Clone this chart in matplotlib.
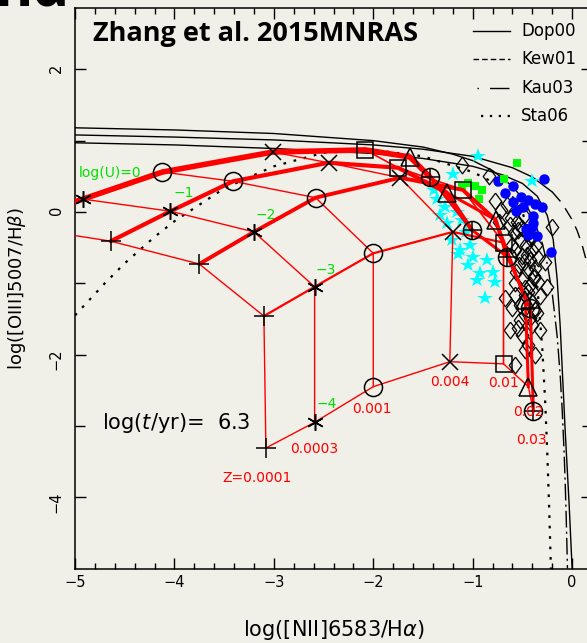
import matplotlib.pyplot as plt
from matplotlib.lines import Line2D

plt.rcParams['font.family'] = 'DejaVu Sans'
plt.rcParams['mathtext.fontset'] = 'dejavusans'

# ---- photoionisation model grid: rows = log(U), columns = Z ----
log_u = ['log(U)=0', '\u22121', '\u22122', '\u22123', '\u22124']
metals = ['Z=0.0001', '0.0003', '0.001', '0.004', '0.01', '0.02', '0.03']

grid_x = [
    [-5.69, -4.92, -4.12, -3.01, -2.08, -1.63, -1.43],
    [-4.64, -4.04, -3.41, -2.45, -1.75, -1.26, -1.01],
    [-3.75, -3.20, -2.58, -1.73, -1.10, -0.77, -0.65],
    [-3.10, -2.59, -2.00, -1.20, -0.69, -0.47, -0.42],
    [-3.08, -2.59, -2.00, -1.23, -0.69, -0.44, -0.39],
]
grid_y = [
    [-0.18, 0.18, 0.56, 0.84, 0.87, 0.77, 0.49],
    [-0.41, 0.01, 0.43, 0.69, 0.62, 0.27, -0.25],
    [-0.73, -0.28, 0.20, 0.48, 0.31, -0.11, -0.63],
    [-1.46, -1.05, -0.58, -0.28, -0.43, -1.23, -1.35],
    [-3.31, -2.95, -2.45, -2.10, -2.13, -2.45, -2.79],
]

# ---- demarcation curves ----
dop_x = [-5.0, -4.0, -3.0, -2.0, -1.5, -1.0, -0.7, -0.5, -0.35, -0.25, -0.19,
         -0.15, -0.12, -0.07, -0.03, 0.0]
dop_y = [0.97, 0.94, 0.89, 0.82, 0.75, 0.64, 0.52, 0.40, 0.22, -0.05, -0.39,
         -0.95, -1.60, -3.06, -4.10, -5.0]

kew_x = [-5.0, -4.0, -3.0, -2.0, -1.5, -1.0, -0.6, -0.4, -0.2, -0.1, 0.0,
         0.05, 0.1, 0.15, 0.2]
kew_y = [1.08, 1.05, 1.01, 0.94, 0.88, 0.78, 0.62, 0.49, 0.28, 0.12, -0.11,
         -0.26, -0.46, -0.72, -1.07]

kau_x = [-5.0, -4.0, -3.0, -2.0, -1.5, -1.2, -1.0, -0.8, -0.6, -0.5, -0.4,
         -0.3, -0.25, -0.2, -0.15, -0.12, -0.1, -0.08, -0.07, -0.06, -0.05, -0.047]
kau_y = [1.18, 1.15, 1.10, 1.00, 0.91, 0.81, 0.72, 0.58, 0.36, 0.19, -0.06,
         -0.44, -0.73, -1.14, -1.75, -2.29, -2.77, -3.39, -3.78, -4.25, -4.80, -5.0]

sta_x = [-5.0, -4.9, -4.7, -4.5, -4.2, -4.0, -3.5, -3.0, -2.5, -2.0, -1.5, -1.0,
         -0.8, -0.6, -0.5, -0.45, -0.4, -0.35, -0.3, -0.27, -0.25, -0.23, -0.215, -0.21]
sta_y = [-1.45, -1.30, -1.00, -0.72, -0.35, -0.13, 0.33, 0.64, 0.83, 0.87, 0.78, 0.56,
         0.42, 0.21, -0.01, -0.20, -0.51, -1.05, -1.91, -2.69, -3.37, -4.19, -4.92, -5.17]

# ---- observed objects ----
star_x = [-0.95, -0.40, -1.20, -1.36, -1.28, -1.16, -1.26, -1.11, -1.21, -1.13, -1.15,
          -1.00, -0.86, -0.93, -0.80, -0.96, -0.88, -1.07, -1.33, -1.03, -0.78, -1.05, -1.39]
star_y = [0.79, 0.43, 0.53, 0.18, 0.07, 0.00, -0.15, -0.11, -0.39, -0.53, -0.59,
          -0.63, -0.67, -0.86, -0.84, -0.95, -1.21, -0.28, -0.04, -0.46, -0.98, -0.74, 0.31]

blue_x = [-0.75, -0.59, -0.68, -0.28, -0.59, -0.51, -0.44, -0.37, -0.30, -0.56,
          -0.49, -0.39, -0.39, -0.46, -0.40, -0.44, -0.35, -0.21]
blue_y = [0.43, 0.36, 0.27, 0.46, 0.14, 0.21, 0.17, 0.11, 0.07, 0.01,
          0.07, -0.06, -0.15, -0.24, -0.21, -0.32, -0.34, -0.56]

green_x = [-0.55, -0.69, -1.05, -0.98, -0.91, -0.94, -1.11]
green_y = [0.69, 0.46, 0.41, 0.36, 0.31, 0.18, 0.35]

diam_x = [-1.11, -0.84, -0.78, -0.72, -0.65, -0.20, -0.74, -0.61, -0.55, -0.50, -0.45,
          -0.58, -0.52, -0.46, -0.40, -0.57, -0.50, -0.42, -0.53, -0.45, -0.37, -0.49,
          -0.42, -0.34, -0.25, -0.57, -0.57, -0.68, -0.47, -0.42, -0.52, -0.37, -0.47,
          -0.52, -0.35, -0.40, -0.62, -0.50, -0.44, -0.37, -0.27, -0.48, -0.40, -0.45,
          -0.38, -0.47, -0.62, -0.54, -0.42, -0.36, -0.60, -0.48, -0.34, -0.56, -0.38,
          -0.44, -0.32, -0.60, -0.42, -0.54, -0.32, -0.47, -0.57]
diam_y = [0.66, 0.50, 0.15, 0.03, 0.10, -0.21, -0.14, -0.08, -0.14, -0.22, -0.29,
          -0.29, -0.39, -0.46, -0.53, -0.53, -0.62, -0.67, -0.74, -0.81, -0.79, -0.93,
          -1.02, -0.98, -1.05, -1.00, -1.16, -1.21, -1.16, -1.23, -1.30, -1.37, -1.44,
          -1.51, -1.42, -1.58, -1.65, -1.73, -1.87, -2.01, -0.70, -0.05, -0.35, -0.60,
          -0.90, -1.07, -0.18, -0.25, -0.36, -0.46, -0.46, -0.70, -0.65, -0.84, -0.93,
          -1.12, -1.18, -1.35, -1.49, -1.63, -1.65, -1.94, -2.15]

BG = '#f0f0e8'
RED = '#ff0000'
GREEN = '#00e000'


def draw_boundary(ax, xs, ys, split, **style):
    # the flat part of each boundary prints as a plain line, the steep tail in its own style
    n = sum(1 for x in xs if x <= split)
    ax.plot(xs[:n], ys[:n], color='black', lw=1.0, zorder=2)
    ax.plot(xs[n - 1:], ys[n - 1:], color='black', zorder=2, **style)


fig = plt.figure(figsize=(5.87, 6.43), dpi=100, facecolor=BG)
ax = fig.add_axes([75 / 587, 74.5 / 643, 517 / 587, 560.5 / 643])
ax.set_facecolor(BG)
ax.set_xlim(-5, 0.2)
ax.set_ylim(-5, 2.86)

# demarcation lines
ax.plot(dop_x, dop_y, color='black', lw=1.0, zorder=2)
draw_boundary(ax, kew_x, kew_y, -0.15, lw=1.0, dashes=(9, 6))
draw_boundary(ax, kau_x, kau_y, -0.35, lw=1.0, dashes=(12, 3, 1.5, 3))
ax.plot(sta_x, sta_y, color='black', lw=1.6, dashes=(1.2, 3.5), zorder=2)

# observed samples
ax.plot(diam_x, diam_y, ls='none', marker=[(0, 1), (0.75, 0), (0, -1), (-0.75, 0), (0, 1)],
        ms=12, mfc='none', mec='black', mew=0.9, zorder=3)
ax.plot(star_x, star_y, ls='none', marker='*', ms=11.5, color='#00ffff', mew=0, zorder=3)
ax.plot(blue_x, blue_y, ls='none', marker='o', ms=7.5, color='#0000ff', mew=0, zorder=3)
ax.plot(green_x, green_y, ls='none', marker='s', ms=5.5, color='#00ff00', mew=0, zorder=3)

# model grid: constant log(U) lines are heavy, constant Z lines thin
row_lw = [4.0, 3.0, 2.8, 1.6, 1.0]
col_lw = [1.0, 1.0, 1.0, 1.0, 1.2, 2.2, 2.2]
for i in range(len(log_u)):
    ax.plot(grid_x[i], grid_y[i], color=RED, lw=row_lw[i], solid_capstyle='round', zorder=4)
for j in range(len(metals)):
    ax.plot([r[j] for r in grid_x], [r[j] for r in grid_y], color=RED, lw=col_lw[j], zorder=4)

z_marks = ['+', (6, 2, 0), 'o', 'x', 's', '^', 'o']
z_size = [14, 12, 13, 11, 12, 13, 13]
for j in range(len(metals)):
    xs = [r[j] for r in grid_x]
    ys = [r[j] for r in grid_y]
    ax.plot(xs, ys, ls='none', marker=z_marks[j], ms=z_size[j], mfc='none',
            mec='black', mew=1.1, zorder=5)
    if j == 6:
        ax.plot(xs, ys, ls='none', marker='+', ms=13, mec='black', mew=1.1, zorder=5)

# labels for log(U) next to the Z=0.0003 points, Z below the log(U)=-4 points
u_off = [(27, 26), (13, 18), (12, 17), (11, 17), (12, 18)]
for i, lab in enumerate(log_u):
    ax.annotate(lab, (grid_x[i][1], grid_y[i][1]), xytext=u_off[i],
                textcoords='offset pixels', color=GREEN, fontsize=10,
                ha='center', va='center', zorder=6)
z_off = [(-9, -30), (0, -27), (-1, -22), (0, -20), (0, -19), (0, -25), (-2, -29)]
for j, lab in enumerate(metals):
    ax.annotate(lab, (grid_x[4][j], grid_y[4][j]), xytext=z_off[j],
                textcoords='offset pixels', color=RED, fontsize=10,
                ha='center', va='center', zorder=6)

ax.text(-4.73, -2.96, r'log($\mathbf{\mathit{t}}$/yr)=  6.3', fontsize=15, va='center', ha='left')

# axes cosmetics
ax.set_xticks([-5, -4, -3, -2, -1, 0])
ax.set_xticklabels(['\u22125', '\u22124', '\u22123', '\u22122', '\u22121', '0'])
ax.set_xticks([x / 5 for x in range(-25, 1)], minor=True)
ax.set_yticks([-4, -2, 0, 2])
ax.set_yticklabels(['\u22124', '\u22122', '0', '2'])
ax.set_yticks([-3, -1, 1], minor=True)
ax.tick_params(which='both', direction='in', top=True, right=True, width=1.0,
               labelsize=10.5, colors='black')
ax.tick_params(which='major', length=8)
ax.tick_params(axis='x', which='major', pad=5)
ax.tick_params(axis='y', which='major', pad=8)
ax.tick_params(which='minor', length=4)
ax.tick_params(axis='y', which='minor', length=7)
ax.tick_params(axis='y', labelrotation=90)
for sp in ax.spines.values():
    sp.set_linewidth(1.1)

ax.set_xlabel('log([NII]6583/H$\\alpha$)', fontsize=15, labelpad=20)
ax.set_ylabel('log([OIII]5007/H$\\beta$)', fontsize=13, labelpad=15)

# legend drawn by hand in the upper right
leg = [('Dop00', 473, dict(ls='-')),
       ('Kew01', 473, dict(dashes=(4, 2.2))),
       ('Kau03', 477, dict(dashes=(1, 8, 14, 10))),
       ('Sta06', 481, dict(dashes=(1, 3), lw=1.6))]
for k, (name, x0, style) in enumerate(leg):
    yy = 1 - (31 + 28.3 * k) / 643
    kw = dict(color='black', lw=1.0)
    kw.update(style)
    fig.add_artist(Line2D([x0 / 587, 510 / 587], [yy, yy], transform=fig.transFigure, **kw))
    fig.text(521 / 587, yy, name, fontsize=12, va='center', ha='left')

ax.text(0.035, 0.953, 'Zhang et al. 2015MNRAS', transform=ax.transAxes, fontsize=19.5,
        fontweight='bold', family='Open Sans', va='center', ha='left')
fig.text(-0.01, 1 - 5 / 643, 'nd', fontsize=42, fontweight='bold', family='Open Sans',
         va='baseline', ha='left')

fig.savefig('out.png', dpi=100, facecolor=BG)
